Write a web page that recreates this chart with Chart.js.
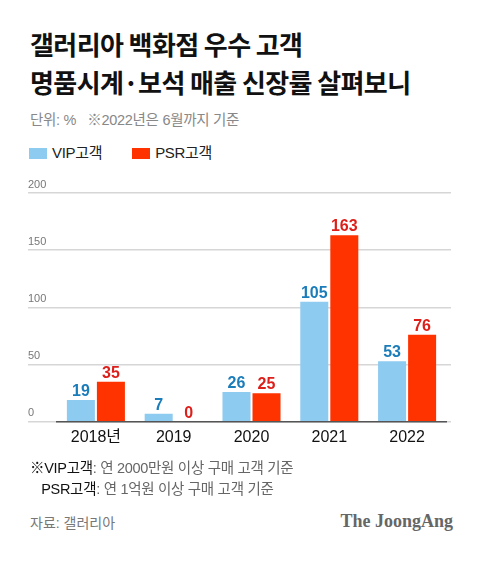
<!DOCTYPE html>
<html>
<head>
<meta charset="UTF-8">
<title>갤러리아 백화점 우수 고객 명품시계·보석 매출 신장률</title>
<script src="https://cdn.jsdelivr.net/npm/chart.js"></script>
<style>
    body { margin: 0; background: #fff; }
    .wrap {
        position: relative;
        width: 480px;
        height: 564px;
        font-family: "Liberation Sans", "Noto Sans CJK KR", sans-serif;
        overflow: hidden;
    }
    .title {
        position: absolute; left: 30px; top: 25px;
        font-size: 26px; font-weight: bold; line-height: 38px;
        color: #111; letter-spacing: -0.6px;
        font-family: "Noto Sans CJK KR", sans-serif;
    }
    .unit {
        position: absolute; left: 30px; top: 108px;
        font-size: 14.5px; color: #888; letter-spacing: -0.3px;
    }
    .legend {
        position: absolute; left: 29px; top: 141px;
        font-size: 15px; color: #222; letter-spacing: -0.3px;
    }
    .legend span.box {
        display: inline-block; width: 18px; height: 11px;
        vertical-align: -1px; margin-right: 5px;
    }
    .legend .item { display: inline-block; margin-right: 26px; }
    #chart { position: absolute; left: 0; top: 163px; }
    .note {
        position: absolute; left: 30px; top: 458px;
        font-size: 14.5px; line-height: 21px; color: #666; letter-spacing: -0.3px;
    }
    .note b { color: #111; font-weight: normal; }
    .src {
        position: absolute; left: 30px; top: 512px;
        font-size: 14px; color: #777;
    }
    .logo {
        position: absolute; right: 27px; top: 511px;
        font-family: "Liberation Serif", serif; font-weight: bold;
        font-size: 18px; color: #666;
    }
</style>
</head>
<body>
<div class="wrap">
    <div class="title">갤러리아 백화점 우수 고객<br>명품시계·보석 매출 신장률 살펴보니</div>
    <div class="unit">단위: %&nbsp;&nbsp;&nbsp;※2022년은 6월까지 기준</div>
    <div class="legend">
        <span class="item"><span class="box" style="background:#8ecbf0"></span>VIP고객</span>
        <span class="item"><span class="box" style="background:#ff3300"></span>PSR고객</span>
    </div>
    <canvas id="chart" width="480" height="296"></canvas>
    <div class="note"><b>※VIP고객</b>: 연 2000만원 이상 구매 고객 기준<br>&nbsp;&nbsp;&nbsp;<b>PSR고객</b>: 연 1억원 이상 구매 고객 기준</div>
    <div class="src">자료: 갤러리아</div>
    <div class="logo">The JoongAng</div>
</div>
<script>
    // 데이터
    const years = ['2018년', '2019', '2020', '2021', '2022'];
    const vipValues = [19, 7, 26, 105, 53];
    const psrValues = [35, 0, 25, 163, 76];
    const yTicks = [0, 50, 100, 150, 200];

    const vipColor = '#8ecbf0';
    const psrColor = '#ff3300';
    const labelColors = ['#1b7cba', '#dc1f1a'];

    // y축 눈금 숫자 (격자선 위 왼쪽)
    const yLabelPlugin = {
        id: 'yLabels',
        afterDraw(chart) {
            const ctx = chart.ctx;
            const scale = chart.scales.y;
            ctx.save();
            ctx.font = '11px "Liberation Sans", sans-serif';
            ctx.fillStyle = '#777';
            ctx.textAlign = 'left';
            ctx.textBaseline = 'bottom';
            yTicks.forEach(v => {
                ctx.fillText(String(v), scale.left, scale.getPixelForValue(v) - 3);
            });
            ctx.restore();
        }
    };

    // 막대 위 값
    const valueLabelPlugin = {
        id: 'valueLabels',
        afterDatasetsDraw(chart) {
            const ctx = chart.ctx;
            ctx.save();
            ctx.font = 'bold 16px "Liberation Sans", sans-serif';
            ctx.textAlign = 'center';
            ctx.textBaseline = 'alphabetic';
            chart.data.datasets.forEach((ds, di) => {
                const meta = chart.getDatasetMeta(di);
                ctx.fillStyle = labelColors[di];
                meta.data.forEach((bar, i) => {
                    ctx.fillText(String(ds.data[i]), bar.x, bar.y - 4);
                });
            });
            ctx.restore();
        }
    };

    new Chart(document.getElementById('chart'), {
        type: 'bar',
        data: {
            labels: years,
            datasets: [{
                label: 'VIP고객',
                data: vipValues,
                backgroundColor: vipColor,
                barPercentage: 0.933,
                categoryPercentage: 0.772
            }, {
                label: 'PSR고객',
                data: psrValues,
                backgroundColor: psrColor,
                barPercentage: 0.933,
                categoryPercentage: 0.772
            }]
        },
        options: {
            responsive: false,
            devicePixelRatio: 1,
            animation: false,
            layout: {
                padding: { left: 28, right: 29, top: 30, bottom: 6 }
            },
            plugins: {
                legend: { display: false },
                tooltip: { enabled: false }
            },
            scales: {
                x: {
                    grid: { display: false, drawTicks: false },
                    border: { display: true, color: '#555', width: 1.5 },
                    ticks: {
                        color: '#111',
                        padding: 6,
                        font: { family: '"Liberation Sans", "Noto Sans CJK KR", sans-serif', size: 16 }
                    }
                },
                y: {
                    min: 0,
                    max: 200,
                    ticks: { display: false, stepSize: 50 },
                    grid: { color: '#d6d6d6', lineWidth: 1.5, drawTicks: true, tickLength: 29 },
                    border: { display: false }
                },
                y2: {
                    display: true,
                    position: 'right',
                    min: 0,
                    max: 200,
                    ticks: { display: false, stepSize: 50 },
                    grid: { color: '#d6d6d6', lineWidth: 1.5, drawTicks: true, tickLength: 5, drawOnChartArea: false },
                    border: { display: false }
                }
            }
        },
        plugins: [yLabelPlugin, valueLabelPlugin]
    });
</script>
</body>
</html>
